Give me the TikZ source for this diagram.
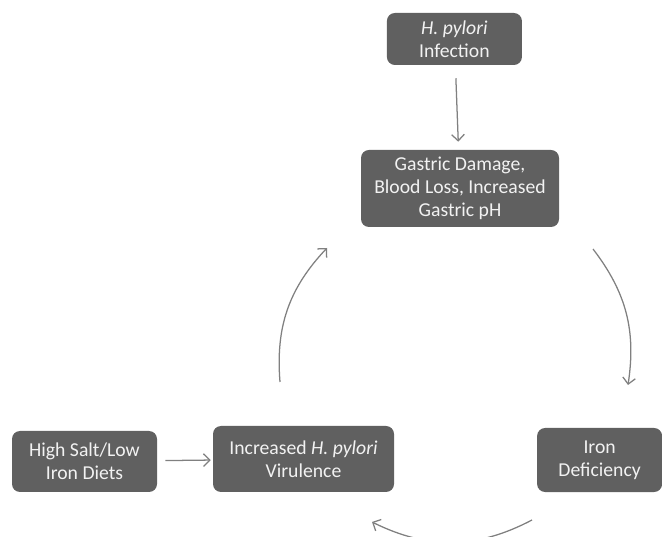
\documentclass[tikz,border=0pt]{standalone}
\usepackage{fontspec}
\setmainfont{Carlito}
\usepackage{xcolor}
\usetikzlibrary{arrows.meta}
\definecolor{boxgray}{RGB}{96, 96, 96}
\definecolor{boxtext}{RGB}{242, 242, 242}
\definecolor{arrowgray}{RGB}{128, 128, 128}

\begin{document}
\begin{tikzpicture}[
    factor/.style={fill=boxgray, rounded corners=0.2cm, text=boxtext, align=center, inner sep=0pt, font=\fontsize{14}{16.5}\selectfont},
    link/.style={draw=arrowgray, line width=0.9pt, -{Straight Barb[length=4.5pt, width=9pt]}},
]
    \useasboundingbox (0,0) rectangle (16.55,13.4);

    % Boxes
    \node[factor, minimum width=3.375cm, minimum height=1.3cm] (infection) at (11.36,12.425) {\textit{H. pylori}\\Infection};
    \node[factor, minimum width=4.95cm, minimum height=1.925cm] (damage) at (11.5,8.6875) {Gastric Damage,\\Blood Loss, Increased\\Gastric pH};
    \node[factor, minimum width=3.125cm, minimum height=1.6cm] (iron) at (14.99,1.9) {Iron\\Deficiency};
    \node[factor, minimum width=4.525cm, minimum height=1.65cm] (virulence) at (7.5875,1.925) {Increased \textit{H. pylori}\\Virulence};
    \node[factor, minimum width=3.625cm, minimum height=1.525cm] (diet) at (2.1125,1.8625) {High Salt/Low\\Iron Diets};

    % Cycle ends
    \coordinate (c1s) at (14.825,7.175);
    \coordinate (c1e) at (15.7,3.775);
    \coordinate (c2s) at (13.3,0.4);
    \coordinate (c2e) at (9.3,0.35);
    \coordinate (c3s) at (7.0,3.85);
    \coordinate (c3e) at (8.175,7.2);

    % Arrows
    \draw[link, shorten <=0.325cm, shorten >=0.2cm] (infection) -- (damage);
    \draw[link, shorten <=0.2cm, shorten >=0.05cm] (diet) -- (virulence);
    \draw[link] (c1s) to[bend left=23] (c1e);
    \draw[link] (c2s) to[bend left=27] (c2e);
    \draw[link] (c3s) to[bend left=24] (c3e);
\end{tikzpicture}
\end{document}
